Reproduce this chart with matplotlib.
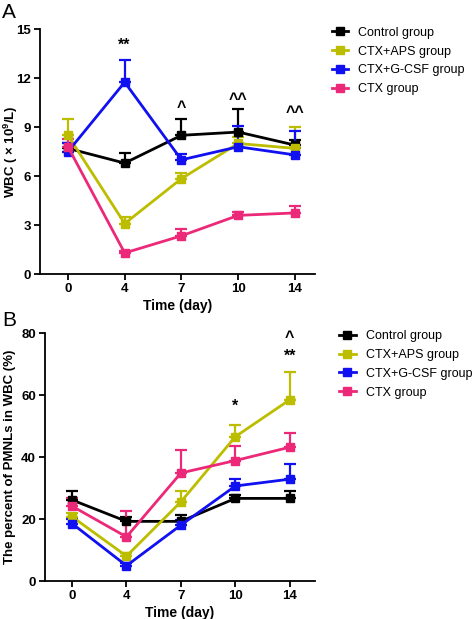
import matplotlib
matplotlib.use('Agg')
import matplotlib.pyplot as plt

plt.rcParams['font.family'] = ['Liberation Sans', 'DejaVu Sans']
plt.rcParams['mathtext.fontset'] = 'custom'
plt.rcParams['mathtext.rm'] = 'Liberation Sans'
plt.rcParams['mathtext.bf'] = 'Liberation Sans:bold'

days = ['0', '4', '7', '10', '14']
groups = ['Control group', 'CTX+APS group', 'CTX+G-CSF group', 'CTX group']
colors = ['#000000', '#BDBD00', '#1010F0', '#EC2878']

# panel A: WBC (x10^9/L), mean and upper error (SD)
wbc_mean = [
    [7.7, 6.8, 8.5, 8.7, 7.9],
    [8.5, 3.1, 5.85, 8.0, 7.7],
    [7.5, 11.75, 7.0, 7.8, 7.3],
    [7.8, 1.3, 2.35, 3.6, 3.75],
]
wbc_err = [
    [0.3, 0.6, 1.0, 1.4, 0.3],
    [1.0, 0.4, 0.35, 0.4, 1.3],
    [0.5, 1.35, 0.35, 1.25, 1.45],
    [0.5, 0.15, 0.4, 0.2, 0.4],
]
wbc_marks = [('**', 1, 14.0), ('^', 2, 10.2), ('^^', 3, 10.7), ('^^', 4, 9.9)]

# panel B: percent of PMNLs in WBC
pmn_mean = [
    [26.2, 19.3, 19.3, 26.7, 26.7],
    [20.8, 8.1, 25.6, 46.6, 58.5],
    [18.6, 5.0, 18.1, 30.7, 32.9],
    [24.2, 14.3, 34.9, 38.9, 43.2],
]
pmn_err = [
    [3.0, 1.5, 2.0, 1.1, 2.4],
    [1.1, 1.0, 3.6, 3.6, 8.8],
    [1.6, 0.9, 1.6, 2.2, 4.9],
    [2.7, 8.3, 7.4, 4.7, 4.7],
]
pmn_marks = [('*', 3, 56.5), ('**', 4, 72.5), ('^', 4, 78.5)]

fig = plt.figure(figsize=(4.72, 6.19), dpi=100)
axA = fig.add_axes([0.085, 0.557, 0.582, 0.396])
axB = fig.add_axes([0.095, 0.061, 0.572, 0.401])

x = list(range(len(days)))


def draw(ax, means, errs, marks, ylim, yticks, ylabel, xlim, labx):
    handles = []
    for m, e, c, g in zip(means, errs, colors, groups):
        ax.errorbar(x, m, yerr=[[0] * len(e), e], fmt='none', ecolor=c,
                    elinewidth=1.6, capsize=4, capthick=1.6, zorder=2)
        h, = ax.plot(x, m, color=c, lw=2, marker='s', ms=5.5, label=g, zorder=3)
        handles.append(h)
    for txt, xi, yv in marks:
        ax.text(xi, yv, txt, ha='center', va='center', fontsize=11.5, fontweight='bold')
    ax.set_xlim(*xlim)
    ax.set_ylim(*ylim)
    ax.set_yticks(yticks)
    ax.set_xticks(x)
    ax.set_xticklabels(days)
    for s in ['top', 'right']:
        ax.spines[s].set_visible(False)
    for s in ['left', 'bottom']:
        ax.spines[s].set_linewidth(1.3)
    ax.tick_params(width=1.3, length=4, labelsize=9.5, pad=2.5)
    for lab in ax.get_xticklabels() + ax.get_yticklabels():
        lab.set_fontweight('bold')
    ax.set_xlabel('Time (day)', fontsize=10, fontweight='bold', labelpad=3)
    ax.set_ylabel(ylabel, fontsize=9.5, fontweight='bold')
    ax.yaxis.set_label_coords(labx, 0.5)
    return handles


hA = draw(axA, wbc_mean, wbc_err, wbc_marks, (0, 15), [0, 3, 6, 9, 12, 15],
          r'WBC ( $\mathbf{\times}$ 10$^{\mathbf{9}}$/L)', (-0.49, 4.35), -0.072)
hB = draw(axB, pmn_mean, pmn_err, pmn_marks, (0, 80), [0, 20, 40, 60, 80],
          'The percent of PMNLs in WBC (%)', (-0.5, 4.46), -0.108)

legkw = dict(loc='upper left', frameon=False, fontsize=9, handlelength=1.3,
             labelspacing=0.55, handletextpad=0.8)
fig.legend(handles=hA, bbox_to_anchor=(0.68, 0.975), **legkw)
fig.legend(handles=hB, bbox_to_anchor=(0.695, 0.485), **legkw)

fig.text(0.005, 0.995, 'A', fontsize=15, va='top', ha='left')
fig.text(0.005, 0.497, 'B', fontsize=15, va='top', ha='left')

fig.savefig('out.png', dpi=100)
